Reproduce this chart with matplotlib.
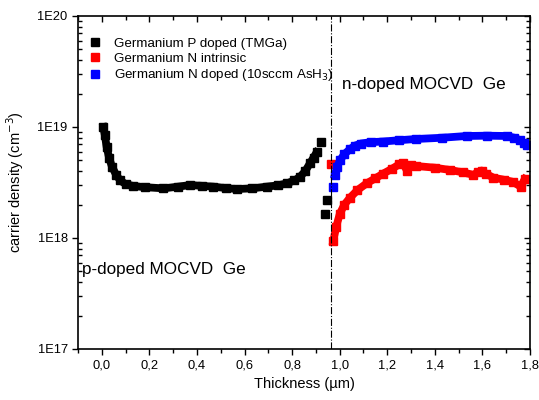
import numpy as np
import matplotlib.pyplot as plt
from matplotlib.ticker import FixedLocator, LogLocator, NullFormatter

plt.rcParams['font.family'] = ['Liberation Sans', 'DejaVu Sans']

# P doped (TMGa) - main curve and stray points
p_x = [0.006, 0.012, 0.02, 0.03, 0.042, 0.06, 0.077, 0.1, 0.132, 0.18, 0.259,
       0.32, 0.371, 0.42, 0.469, 0.52, 0.567, 0.63, 0.693, 0.74, 0.777, 0.81,
       0.833, 0.855, 0.875, 0.89, 0.903]
p_y = [1.0e19, 8.5e18, 6.6e18, 5.3e18, 4.4e18, 3.7e18, 3.3e18, 3.05e18, 2.94e18,
       2.87e18, 2.8e18, 2.9e18, 3.0e18, 2.95e18, 2.9e18, 2.82e18, 2.76e18, 2.8e18,
       2.9e18, 2.98e18, 3.1e18, 3.3e18, 3.55e18, 4.0e18, 4.7e18, 5.3e18, 5.9e18]
p_sx = [0.921, 0.947, 0.938]
p_sy = [7.4e18, 2.2e18, 1.66e18]

# N intrinsic
ni_x = [0.973, 0.985, 1.001, 1.02, 1.043, 1.075, 1.113, 1.15, 1.183, 1.22, 1.25,
        1.267, 1.283, 1.30, 1.323, 1.40, 1.464, 1.52, 1.562, 1.58, 1.597, 1.615,
        1.646, 1.69, 1.73, 1.761, 1.779]
ni_y = [9.3e17, 1.25e18, 1.66e18, 2.0e18, 2.3e18, 2.7e18, 3.1e18, 3.45e18, 3.8e18,
        4.2e18, 4.6e18, 4.7e18, 4.05e18, 4.5e18, 4.45e18, 4.3e18, 4.1e18, 3.9e18,
        3.7e18, 3.9e18, 4.05e18, 3.8e18, 3.5e18, 3.35e18, 3.2e18, 2.9e18, 3.4e18]
ni_sx = [0.963]
ni_sy = [4.6e18]

# N doped (10sccm AsH3)
nd_x = [0.98, 0.99, 1.001, 1.02, 1.043, 1.065, 1.09, 1.13, 1.183, 1.25, 1.323,
        1.43, 1.534, 1.62, 1.702, 1.735, 1.758, 1.775, 1.786]
nd_y = [3.7e18, 4.4e18, 5.0e18, 5.7e18, 6.3e18, 6.8e18, 7.1e18, 7.3e18, 7.4e18,
        7.6e18, 7.8e18, 8.0e18, 8.3e18, 8.35e18, 8.3e18, 8.0e18, 7.6e18, 7.2e18, 6.9e18]
nd_sx = [0.973]
nd_sy = [2.9e18]

y_ticks = [1e17, 1e18, 1e19, 1e20]
y_labels = ['1E17', '1E18', '1E19', '1E20']
x_ticks = [0.0, 0.2, 0.4, 0.6, 0.8, 1.0, 1.2, 1.4, 1.6, 1.8]
x_labels = ['0,0', '0,2', '0,4', '0,6', '0,8', '1,0', '1,2', '1,4', '1,6', '1,8']

fig = plt.figure(figsize=(5.39, 4.0), dpi=100)
ax = fig.add_axes([0.145, 0.1275, 0.838, 0.8325])

ms = 5.6
lw = 5.6
ax.plot(p_x, p_y, color='black', lw=lw, marker='s', ms=ms, solid_joinstyle='round')
ax.plot(p_sx, p_sy, ls='none', color='black', marker='s', ms=ms, label='Germanium P doped (TMGa)')
ax.plot(ni_x, ni_y, color='red', lw=lw, marker='s', ms=ms, solid_joinstyle='round')
ax.plot(ni_sx, ni_sy, ls='none', color='red', marker='s', ms=ms, label='Germanium N intrinsic')
ax.plot(nd_x, nd_y, color='blue', lw=lw, marker='s', ms=ms, solid_joinstyle='round')
ax.plot(nd_sx, nd_sy, ls='none', color='blue', marker='s', ms=ms,
        label='Germanium N doped (10sccm AsH$_3$)')

ax.axvline(0.962, color='black', lw=0.8, ls='-.')

ax.set_yscale('log')
ax.set_xlim(-0.1, 1.8)
ax.set_ylim(1e17, 1e20)
ax.set_yticks(y_ticks)
ax.set_yticklabels(y_labels)
ax.yaxis.set_minor_locator(LogLocator(base=10, subs=np.arange(2, 10)))
ax.yaxis.set_minor_formatter(NullFormatter())
ax.set_xticks(x_ticks)
ax.set_xticklabels(x_labels)
ax.xaxis.set_minor_locator(FixedLocator(np.arange(-0.1, 1.85, 0.2)))

ax.tick_params(axis='both', which='major', labelsize=9.3, width=1, length=4, direction='out')
ax.tick_params(axis='y', which='minor', direction='in', length=3, width=1, right=True)
ax.tick_params(axis='x', which='minor', direction='out', length=3, width=1)
ax.tick_params(axis='x', which='both', top=True)
ax.tick_params(axis='y', which='both', right=True)
# mirrored axes: ticks pointing inside
for t in ax.xaxis.get_major_ticks() + ax.xaxis.get_minor_ticks():
    t.tick2line.set_marker(3)
for t in ax.yaxis.get_major_ticks():
    t.tick2line.set_marker(0)
for s in ax.spines.values():
    s.set_linewidth(1.2)

ax.set_xlabel('Thickness (\u00b5m)', fontsize=10.5)
ax.set_ylabel('carrier density (cm$^{-3}$)', fontsize=10.5, labelpad=8)

ax.text(1.009, 2.4e19, 'n-doped MOCVD  Ge', fontsize=12.3, va='center')
ax.text(-0.083, 5.2e17, 'p-doped MOCVD  Ge', fontsize=12.3, va='center')

ax.legend(loc='upper left', bbox_to_anchor=(0.029, 0.936), frameon=False, fontsize=9.6,
          handlelength=0.6, handletextpad=1.1, labelspacing=0.2, borderaxespad=0,
          borderpad=0, markerscale=0.95)

fig.savefig('out.png', dpi=100)
